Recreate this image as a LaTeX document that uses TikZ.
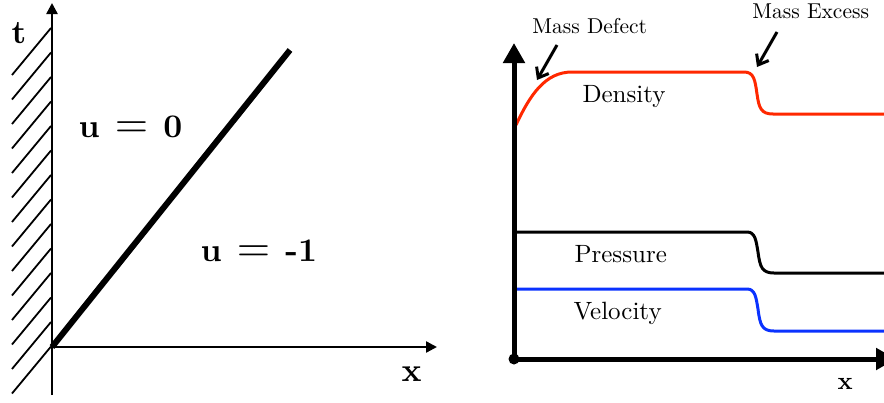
\documentclass[tikz,border=0pt]{standalone}
\usepackage{graphicx}
\usetikzlibrary{arrows.meta}
\definecolor{densred}{RGB}{255,40,0}
\definecolor{velblue}{RGB}{10,50,255}
\begin{document}
\begin{tikzpicture}[x=1pt,y=-1pt,
  axisthin/.style={line width=2.4pt,-{Triangle[length=11pt,width=11pt]}},
  axisthick/.style={line width=5pt,-{Triangle[length=20pt,width=21pt]}},
  hatch/.style={line width=1.8pt},
  curve/.style={line width=3pt,line join=round},
  pointer/.style={line width=3pt,-{Straight Barb[length=9pt,width=14pt,line width=3pt]}},
  boldlbl/.style={font=\bfseries,inner sep=0pt,scale=3.3,anchor=base west},
  curvelbl/.style={inner sep=0pt,scale=2.5,anchor=base west},
  masslbl/.style={inner sep=0pt,scale=2.15,anchor=base west}]
\useasboundingbox (0,0) rectangle (884,402);
% ---------- left diagram ----------
\coordinate (o1) at (52,347);
\coordinate (tbot) at (52,395);
\coordinate (ttop) at (52,3);
\coordinate (xend) at (437,347);
\coordinate (shock) at (290,50);
\foreach \i in {0,...,13}{
  \draw[hatch] (12,75+24.5*\i) -- (51,28+24.5*\i);
}
\draw[axisthin] (tbot) -- (ttop);
\draw[axisthin] (o1) -- (xend);
\draw[line width=6pt] (o1) -- (shock);
\node[boldlbl] (tlbl) at (11,43) {t};
\node[boldlbl] (xlbl) at (401,381) {x};
\node[boldlbl] (u0) at (78,137) {u\hspace{4.6pt}\scalebox{1.3}{$=$}\hspace{4.6pt}0};
\node[boldlbl] (u1) at (200,261) {u\hspace{4.6pt}\scalebox{1.3}{$=$}\hspace{4.6pt}-1};
% ---------- right diagram ----------
\coordinate (o2) at (514,359);
\coordinate (ytop) at (514,43);
\coordinate (xend2) at (896,359);
\draw[curve,densred] (516,125) .. controls (530,95) and (545,72) .. (572,72)
  -- (744,72) .. controls (754,72) and (755,80) .. (757,94)
  .. controls (759,108) and (761,114) .. (773,114) -- (890,114);
\draw[curve] (516,232) -- (747,232) .. controls (755,232) and (756,240) .. (758,252)
  .. controls (760,267) and (762,273) .. (774,273) -- (890,273);
\draw[curve,velblue] (516,289) -- (747,289) .. controls (755,289) and (756,297) .. (758,309)
  .. controls (760,325) and (762,331) .. (774,331) -- (890,331);
\draw[axisthick] (o2) -- (ytop);
\draw[axisthick] (o2) -- (xend2);
\fill (o2) circle (5.5pt);
\node[curvelbl] (dens) at (582,102) {Density};
\node[curvelbl] (pres) at (574,262) {Pressure};
\node[curvelbl] (velo) at (573,319) {Velocity};
\node[font=\bfseries,inner sep=0pt,scale=2.5,anchor=base west] (x2) at (837,389) {x};
\node[masslbl] (mdef) at (532,33) {Mass Defect};
\node[masslbl] (mexc) at (752,18) {Mass Excess};
\coordinate (mdefa) at (557,45);
\coordinate (mdefb) at (537,80);
\coordinate (mexca) at (777,32);
\coordinate (mexcb) at (757,67);
\draw[pointer] (mdefa) -- (mdefb);
\draw[pointer] (mexca) -- (mexcb);
\end{tikzpicture}
\end{document}
